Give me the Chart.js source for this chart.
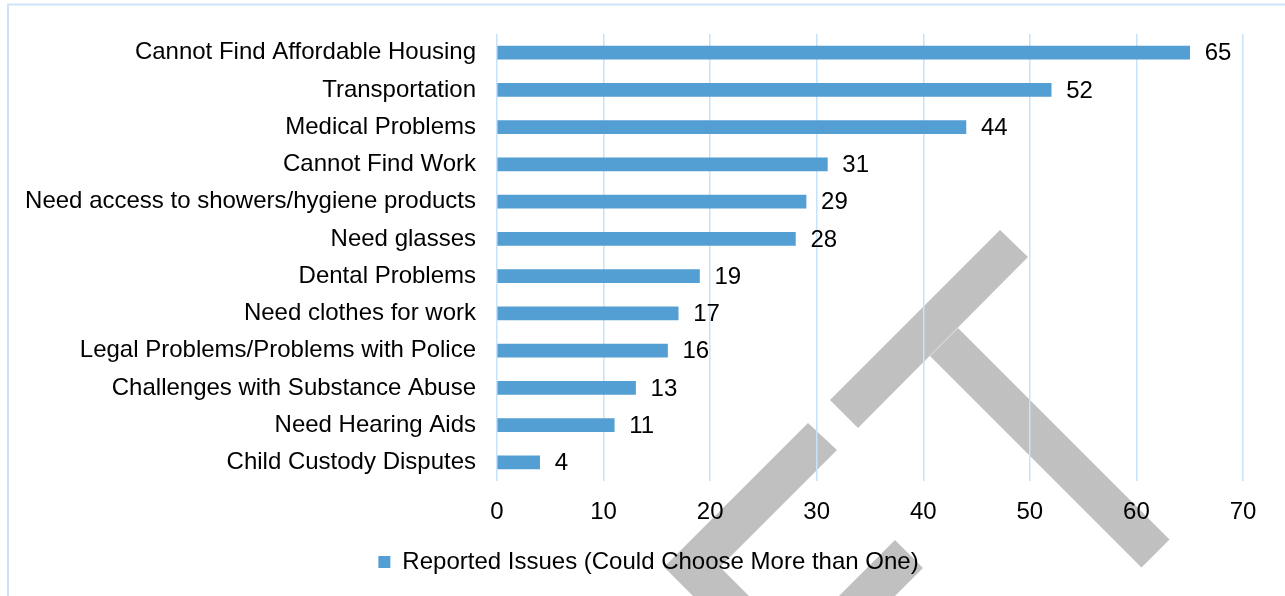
<!DOCTYPE html>
<html>
<head>
<meta charset="utf-8">
<script src="https://cdn.jsdelivr.net/npm/chart.js@4/dist/chart.umd.min.js"></script>
<style>
  html, body { margin: 0; padding: 0; background: #ffffff; overflow: hidden; }
  #wrap { position: relative; width: 1285px; height: 596px; }
  canvas { display: block; }
</style>
</head>
<body>
<div id="wrap"><canvas id="chart" width="1285" height="596"></canvas></div>
<script>
// Reported issues, one bar per category (respondents could pick several)
const categories = [
  'Cannot Find Affordable Housing',
  'Transportation',
  'Medical Problems',
  'Cannot Find Work',
  'Need access to showers/hygiene products',
  'Need glasses',
  'Dental Problems',
  'Need clothes for work',
  'Legal Problems/Problems with Police',
  'Challenges with Substance Abuse',
  'Need Hearing Aids',
  'Child Custody Disputes'
];
const issueCounts = [65, 52, 44, 31, 29, 28, 19, 17, 16, 13, 11, 4];
const seriesLabel = 'Reported Issues (Could Choose More than One)';
const xTickMin = 0;
const xTickMax = 70;
const xTickStep = 10;

const FONT = "'Liberation Sans', Arial, Helvetica, sans-serif";
const BAR_COLOR = '#539ed2';
const GRID_COLOR = '#c8e2f8';

// Grey backdrop stroke shapes and the light frame, painted before the scales
const backdropPlugin = {
  id: 'backdrop',
  beforeDraw(chart) {
    const ctx = chart.ctx;
    ctx.save();
    ctx.fillStyle = '#c0c0c0';
    const shapes = [
      [[830, 400], [858, 428], [1028, 257], [1000, 230]],
      [[930, 356], [958, 328], [1169.5, 539.5], [1141.5, 567.5]],
      [[808, 423], [837, 450], [720, 567], [793, 640], [737, 640], [664, 567]],
      [[895, 540], [923, 568], [851, 640], [795, 640]]
    ];
    shapes.forEach(poly => {
      ctx.beginPath();
      poly.forEach(([x, y], i) => (i ? ctx.lineTo(x, y) : ctx.moveTo(x, y)));
      ctx.closePath();
      ctx.fill();
    });
    ctx.strokeStyle = '#cbe3f8';
    ctx.lineWidth = 2;
    ctx.beginPath();
    ctx.moveTo(8, 600);
    ctx.lineTo(8, 4.5);
    ctx.lineTo(1290, 4.5);
    ctx.stroke();
    ctx.restore();
  }
};

// Centre the legend item a little right of the canvas middle
const legendShiftPlugin = {
  id: 'legendShift',
  afterLayout(chart) {
    const legend = chart.legend;
    if (!legend) return;
    legend.left = 54;
    legend.right = 1243;
  }
};

// Value labels just past the end of each bar
const valueLabelPlugin = {
  id: 'valueLabels',
  afterDatasetsDraw(chart) {
    const ctx = chart.ctx;
    const meta = chart.getDatasetMeta(0);
    const values = chart.data.datasets[0].data;
    ctx.save();
    ctx.font = '24px ' + FONT;
    ctx.fillStyle = '#000000';
    ctx.textAlign = 'left';
    ctx.textBaseline = 'middle';
    meta.data.forEach((bar, i) => {
      ctx.fillText(String(values[i]), bar.x + 15, bar.y + 1);
    });
    ctx.restore();
  }
};

new Chart(document.getElementById('chart'), {
  type: 'bar',
  data: {
    labels: categories,
    datasets: [{
      label: seriesLabel,
      data: issueCounts,
      backgroundColor: BAR_COLOR,
      borderWidth: 0,
      barThickness: 13
    }]
  },
  options: {
    indexAxis: 'y',
    responsive: false,
    animation: false,
    devicePixelRatio: 1,
    layout: { padding: { top: 34, left: 20, right: 42, bottom: 12 } },
    scales: {
      x: {
        min: xTickMin,
        max: xTickMax,
        border: { display: false },
        grid: { color: GRID_COLOR, lineWidth: 1.5, drawTicks: false },
        ticks: {
          stepSize: xTickStep,
          padding: 17,
          color: '#000000',
          font: { family: FONT, size: 24 }
        },
        afterFit(scale) {
          scale.height = 59;
          scale.paddingLeft = 0;
          scale.paddingRight = 0;
        }
      },
      y: {
        border: { display: false },
        grid: { display: false, drawTicks: false },
        ticks: {
          padding: 21,
          color: '#000000',
          autoSkip: false,
          font: { family: FONT, size: 24 }
        },
        afterFit(scale) {
          scale.width = 477;
          scale.paddingTop = 0;
          scale.paddingBottom = 0;
        }
      }
    },
    plugins: {
      legend: {
        position: 'bottom',
        labels: {
          boxWidth: 12,
          boxHeight: 12,
          padding: 10,
          color: '#000000',
          font: { family: FONT, size: 24 }
        }
      },
      tooltip: { enabled: false },
      title: { display: false }
    }
  },
  plugins: [backdropPlugin, legendShiftPlugin, valueLabelPlugin]
});
</script>
</body>
</html>
